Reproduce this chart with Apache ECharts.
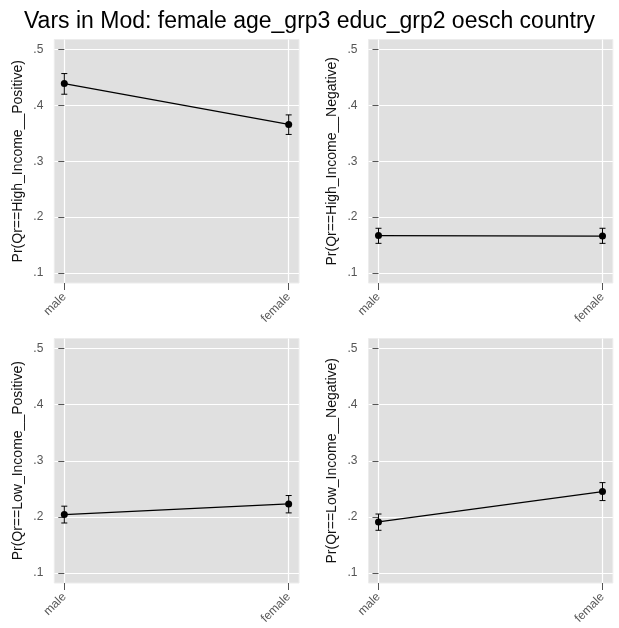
<!DOCTYPE html>
<html>
<head>
<meta charset="utf-8">
<script src="https://cdn.jsdelivr.net/npm/echarts@6/dist/echarts.min.js"></script>
<style>
  html, body { margin: 0; padding: 0; background: #fff; }
  #chart { width: 619px; height: 628px; }
</style>
</head>
<body>
<div id="chart"></div>
<script>
// Predicted probabilities by sex, with 95% confidence bounds
const categories = ['male', 'female'];
const yTicks = [0.1, 0.2, 0.3, 0.4, 0.5];
const titleText = 'Vars in Mod: female age_grp3 educ_grp2 oesch country';

const highPosNames = 'Pr(Qr==High_Income__Positive)';
const highPos = [0.439, 0.366];
const highPosLo = [0.420, 0.348];
const highPosHi = [0.457, 0.383];

const highNegNames = 'Pr(Qr==High_Income__Negative)';
const highNeg = [0.167, 0.166];
const highNegLo = [0.153, 0.153];
const highNegHi = [0.180, 0.180];

const lowPosNames = 'Pr(Qr==Low_Income__Positive)';
const lowPos = [0.204, 0.223];
const lowPosLo = [0.189, 0.207];
const lowPosHi = [0.219, 0.238];

const lowNegNames = 'Pr(Qr==Low_Income__Negative)';
const lowNeg = [0.191, 0.245];
const lowNegLo = [0.176, 0.229];
const lowNegHi = [0.205, 0.261];

const panels = [
  { name: highPosNames, est: highPos, lo: highPosLo, hi: highPosHi },
  { name: highNegNames, est: highNeg, lo: highNegLo, hi: highNegHi },
  { name: lowPosNames,  est: lowPos,  lo: lowPosLo,  hi: lowPosHi },
  { name: lowNegNames,  est: lowNeg,  lo: lowNegLo,  hi: lowNegHi }
];

const FONT = '"Liberation Sans", Arial, Helvetica, sans-serif';
const gridBoxes = [
  { left: 54.3, top: 39.5, width: 244.7, height: 243.5 },
  { left: 368.5, top: 39.5, width: 244.3, height: 243.5 },
  { left: 54.3, top: 338.5, width: 244.7, height: 244.5 },
  { left: 368.5, top: 338.5, width: 244.3, height: 244.5 }
];

const grids = [], xAxes = [], yAxes = [], series = [];
const catIdx = categories.map((c, i) => i);

panels.forEach((p, k) => {
  grids.push(Object.assign({
    show: true, backgroundColor: '#e0e0e0', borderColor: '#ececec', borderWidth: 1
  }, gridBoxes[k]));

  xAxes.push({
    gridIndex: k, type: 'value', min: -0.0446, max: 1.046,
    axisLine: { show: false },
    axisTick: { show: true, length: 7, customValues: catIdx, lineStyle: { color: '#555', width: 1 } },
    axisLabel: {
      customValues: catIdx, rotate: 45, margin: 12, color: '#555', fontSize: 12, fontFamily: FONT,
      formatter: v => categories[Math.round(v)]
    },
    splitLine: { show: true, lineStyle: { color: '#ffffff', width: 1.2 } }
  });

  yAxes.push({
    gridIndex: k, type: 'value', min: 0.082, max: 0.518,
    name: p.name, nameLocation: 'middle', nameGap: 29, nameRotate: 90,
    nameTextStyle: { color: '#111', fontSize: 14, fontFamily: FONT },
    axisLine: { show: false },
    axisTick: { show: true, length: 6, customValues: yTicks, lineStyle: { color: '#555', width: 1 } },
    axisLabel: {
      customValues: yTicks, margin: 11, color: '#555', fontSize: 12, fontFamily: FONT,
      formatter: v => String(Math.round(v * 10) / 10).replace(/^0/, '')
    },
    splitLine: { show: true, lineStyle: { color: '#ffffff', width: 1.2 } }
  });

  // confidence interval whiskers
  series.push({
    type: 'custom', xAxisIndex: k, yAxisIndex: k, z: 3,
    data: catIdx.map(i => [i, p.lo[i], p.hi[i]]),
    renderItem: (params, api) => {
      const x = api.value(0);
      const a = api.coord([x, api.value(1)]);
      const b = api.coord([x, api.value(2)]);
      const cap = 3;
      const style = { stroke: '#000', lineWidth: 1, fill: null };
      return {
        type: 'group',
        children: [
          { type: 'line', shape: { x1: a[0], y1: a[1], x2: b[0], y2: b[1] }, style },
          { type: 'line', shape: { x1: a[0] - cap, y1: a[1], x2: a[0] + cap, y2: a[1] }, style },
          { type: 'line', shape: { x1: b[0] - cap, y1: b[1], x2: b[0] + cap, y2: b[1] }, style }
        ]
      };
    }
  });

  // point estimates joined by a line
  series.push({
    type: 'line', xAxisIndex: k, yAxisIndex: k, z: 4,
    data: catIdx.map(i => [i, p.est[i]]),
    symbol: 'circle', symbolSize: 7,
    itemStyle: { color: '#000' },
    lineStyle: { color: '#000', width: 1.2 },
    animation: false
  });
});

const chart = echarts.init(document.getElementById('chart'), null, { renderer: 'canvas' });
chart.setOption({
  animation: false,
  backgroundColor: '#ffffff',
  title: {
    text: titleText, left: 'center', top: 5,
    textStyle: { color: '#000', fontSize: 23, fontWeight: 'normal', fontFamily: FONT }
  },
  grid: grids,
  xAxis: xAxes,
  yAxis: yAxes,
  series: series
});
</script>
</body>
</html>
